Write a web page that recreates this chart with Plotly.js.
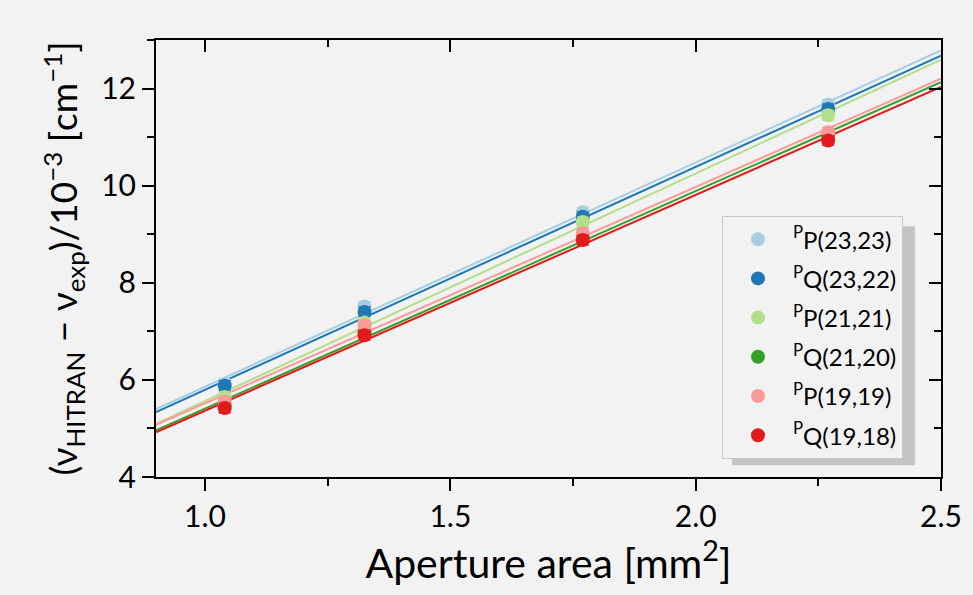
<!DOCTYPE html>
<html>
<head>
<meta charset="utf-8">
<script src="https://cdn.plot.ly/plotly-3.0.1.min.js"></script>
<style>html,body{margin:0;padding:0;background:#f2f2f2;}#chart{width:973px;height:595px;}</style>
</head>
<body>
<div id="chart"></div>
<script>
// Aperture area [mm^2]
const apertureArea = [1.04, 1.325, 1.77, 2.27];
// Frequency difference (nu_HITRAN - nu_exp) / 1e-3 cm^-1
const seriesNames = ['<sup>P</sup>P(23,23)', '<sup>P</sup>Q(23,22)', '<sup>P</sup>P(21,21)', '<sup>P</sup>Q(21,20)', '<sup>P</sup>P(19,19)', '<sup>P</sup>Q(19,18)'];
const pP2323 = [5.92, 7.51, 9.45, 11.67];
const pQ2322 = [5.88, 7.40, 9.36, 11.58];
const pP2121 = [5.65, 7.18, 9.25, 11.45];
const pQ2120 = [5.47, 6.98, 8.93, 11.03];
const pP1919 = [5.55, 7.12, 9.02, 11.10];
const pQ1918 = [5.42, 6.92, 8.88, 10.93];
const errBar = [0.1, 0.1, 0.1, 0.1];
const seriesColors = ['#a6cee3', '#1f78b4', '#b2df8a', '#33a02c', '#fb9a99', '#e31a1c'];
const xRange = [0.9, 2.5];
const yRange = [4, 13];

const allSeries = [pP2323, pQ2322, pP2121, pQ2120, pP1919, pQ1918];
const FONT = 'Lato, "Open Sans", sans-serif';

function linfit(xs, ys) {
  const n = xs.length;
  const mx = xs.reduce((a, b) => a + b, 0) / n;
  const my = ys.reduce((a, b) => a + b, 0) / n;
  let sxy = 0, sxx = 0;
  for (let i = 0; i < n; i++) { sxy += (xs[i] - mx) * (ys[i] - my); sxx += (xs[i] - mx) ** 2; }
  const m = sxy / sxx;
  return { m: m, b: my - m * mx };
}

const traces = [];
// fit lines
allSeries.forEach((ys, i) => {
  const f = linfit(apertureArea, ys);
  traces.push({
    x: xRange, y: xRange.map(v => f.m * v + f.b),
    mode: 'lines', line: { color: seriesColors[i], width: 2 },
    showlegend: false, hoverinfo: 'skip', cliponaxis: true
  });
});
// markers
allSeries.forEach((ys, i) => {
  traces.push({
    x: apertureArea, y: ys, name: seriesNames[i],
    mode: 'markers', legendgroup: 'g' + i,
    marker: { color: seriesColors[i], size: 14 },
    error_y: { type: 'data', array: errBar, color: seriesColors[i], thickness: 1.5, width: 6 }
  });
});
// mirror axes (ticks inside on top/right)
traces.push({ x: apertureArea, y: pP2323, xaxis: 'x2', yaxis: 'y2', mode: 'markers',
  marker: { opacity: 0 }, showlegend: false, hoverinfo: 'skip' });

const axisCommon = { showgrid: false, zeroline: false, showline: true, linecolor: '#000', linewidth: 2,
  tickcolor: '#000', tickwidth: 2, ticklen: 12 };

const layout = {
  width: 973, height: 595,
  paper_bgcolor: '#f2f2f2', plot_bgcolor: '#f2f2f2',
  margin: { l: 156, r: 32, t: 40, b: 118 },
  font: { family: FONT, color: '#000' },
  showlegend: true,
  xaxis: Object.assign({}, axisCommon, {
    range: xRange, dtick: 0.5, tick0: 0, ticks: 'outside', tickformat: '.1f',
    minor: { dtick: 0.25, ticks: 'outside', ticklen: 7, tickcolor: '#000', tickwidth: 2 },
    tickfont: { size: 30, family: FONT },
    title: { text: 'Aperture area [mm<sup>2</sup>]', font: { size: 41, family: FONT }, standoff: 10 }
  }),
  yaxis: Object.assign({}, axisCommon, {
    range: yRange, dtick: 2, tick0: 0, ticks: 'outside',
    minor: { dtick: 1, ticks: 'outside', ticklen: 7, tickcolor: '#000', tickwidth: 2 },
    tickfont: { size: 30, family: FONT },
    title: { text: '(ν<sub>HITRAN</sub> − ν<sub>exp</sub>)/10<sup>−3</sup> [cm<sup>−1</sup>]', font: { size: 37, family: FONT }, standoff: 12 }
  }),
  xaxis2: Object.assign({}, axisCommon, {
    range: xRange, dtick: 0.5, tick0: 0, ticks: 'inside', overlaying: 'x', side: 'top', showticklabels: false,
    minor: { dtick: 0.25, ticks: 'inside', ticklen: 7, tickcolor: '#000', tickwidth: 2 }
  }),
  yaxis2: Object.assign({}, axisCommon, {
    range: yRange, dtick: 2, tick0: 0, ticks: 'inside', overlaying: 'y', side: 'right', showticklabels: false,
    minor: { dtick: 1, ticks: 'inside', ticklen: 7, tickcolor: '#000', tickwidth: 2 }
  }),
  legend: {
    x: 0.721, y: 0.597, xanchor: 'left', yanchor: 'top',
    bgcolor: '#f2f2f2', bordercolor: '#c8c8c8', borderwidth: 1,
    font: { size: 24, family: FONT, color: '#000' },
    traceorder: 'grouped', tracegroupgap: 5, itemwidth: 60
  },
  shapes: [{
    type: 'rect', xref: 'paper', yref: 'paper', layer: 'above',
    x0: 0.734, x1: 0.967, y0: 0.027, y1: 0.574,
    fillcolor: '#c4c4c4', line: { width: 0 }
  }]
};

Plotly.newPlot('chart', traces, layout, { displayModeBar: false, staticPlot: true });
</script>
</body>
</html>
